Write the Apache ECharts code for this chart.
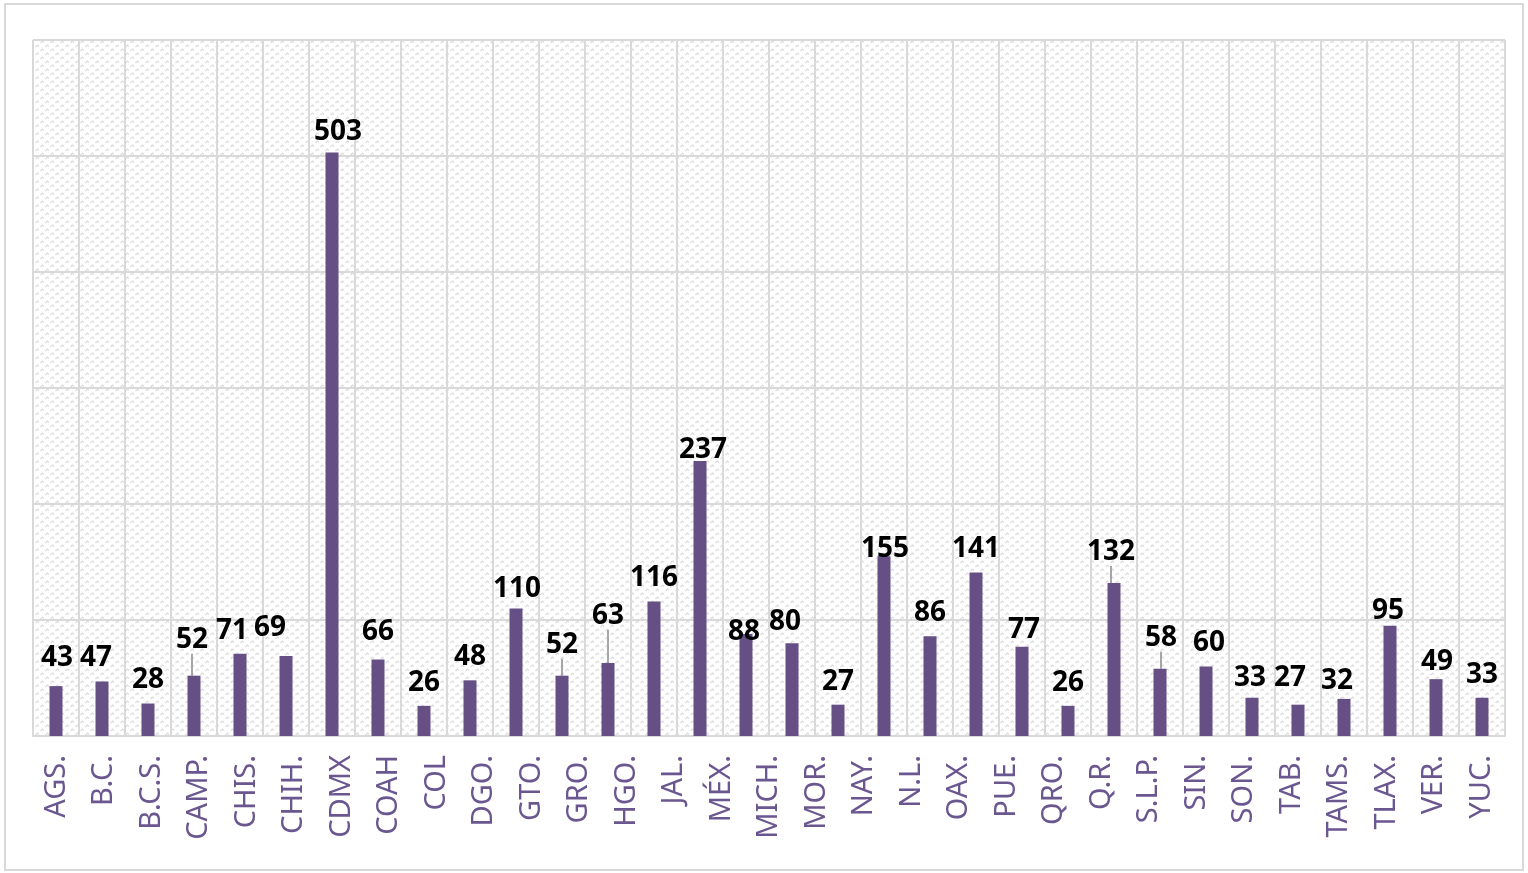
<!DOCTYPE html>
<html>
<head>
<meta charset="utf-8">
<script src="https://cdn.jsdelivr.net/npm/echarts@6/dist/echarts.min.js"></script>
<style>
  html, body { margin: 0; padding: 0; background: #fff; }
  #main { width: 1528px; height: 873px; }
</style>
</head>
<body>
<div id="main"></div>
<script>
// etiquetas del eje (31) y valores de las barras (32)
const states = ['AGS.', 'B.C.', 'B.C.S.', 'CAMP.', 'CHIS.', 'CHIH.', 'CDMX', 'COAH', 'COL', 'DGO.',
  'GTO.', 'GRO.', 'HGO.', 'JAL.', 'MÉX.', 'MICH.', 'MOR.', 'NAY.', 'N.L.', 'OAX.', 'PUE.',
  'QRO.', 'Q.R.', 'S.L.P.', 'SIN.', 'SON.', 'TAB.', 'TAMS.', 'TLAX.', 'VER.', 'YUC.']
const values = [43, 47, 28, 52, 71, 69, 503, 66, 26, 48, 110, 52, 63, 116, 237, 88, 80, 27,
  155, 86, 141, 77, 26, 132, 58, 60, 33, 27, 32, 95, 49, 33]
const yTicks = [0, 100, 200, 300, 400, 500, 600]

// ajustes manuales de etiquetas (índice -> [dx, dy])
const labelNudge = {
  0: [1, -5], 1: [-6, 0], 3: [-2, -13], 4: [-8, 0], 5: [-16, -5], 6: [6, 3], 7: [0, -4],
  10: [1, 4], 11: [0, -8], 12: [0, -24], 14: [3, 12], 15: [-2, 21], 16: [-7, 2], 18: [1, 16],
  21: [2, 6], 23: [-3, -8], 24: [1, -8], 25: [3, 0], 26: [-2, 3], 27: [-8, -4], 28: [-7, 5],
  29: [-2, 8], 30: [1, 6]
}
const leaderIdx = [3, 11, 12, 23, 24]

// fondo con textura (trazos diagonales cortos)
function makePattern() {
  const c = document.createElement('canvas')
  c.width = 10
  c.height = 8
  const ctx = c.getContext('2d')
  ctx.fillStyle = '#ffffff'
  ctx.fillRect(0, 0, 10, 8)
  ctx.strokeStyle = '#dcdcdc'
  ctx.lineWidth = 1.2
  ctx.beginPath()
  ctx.moveTo(0.5, 3); ctx.lineTo(2.5, 1); ctx.lineTo(4, 2.5)
  ctx.moveTo(5.5, 7); ctx.lineTo(7.5, 5); ctx.lineTo(9, 6.5)
  ctx.stroke()
  return c
}

const barCats = values.map((v, i) => states[i] || '')

const myChart = echarts.init(document.getElementById('main'))

myChart.setOption({
  animation: false,
  backgroundColor: '#fff',
  graphic: [{
    type: 'rect',
    shape: { x: 5, y: 4, width: 1518, height: 866 },
    style: { fill: 'none', stroke: '#d9d9d9', lineWidth: 2 },
    silent: true
  }],
  grid: {
    left: 33,
    right: 23,
    top: 40,
    bottom: 137,
    show: true,
    borderWidth: 0,
    backgroundColor: { image: makePattern(), repeat: 'repeat' }
  },
  xAxis: [
    {
      type: 'category',
      data: barCats,
      axisLine: { lineStyle: { color: '#d9d9d9', width: 2 } },
      axisTick: { show: false },
      axisLabel: { show: false },
      splitLine: { show: true, interval: 0, lineStyle: { color: '#d9d9d9', width: 2 } }
    },
    {
      type: 'category',
      data: states,
      position: 'bottom',
      axisLine: { show: false },
      axisTick: { show: false },
      splitLine: { show: false },
      axisLabel: {
        interval: 0,
        rotate: 90,
        margin: 19,
        color: '#6b5790',
        fontFamily: 'Noto Sans',
        fontSize: 29
      }
    }
  ],
  yAxis: {
    type: 'value',
    min: yTicks[0],
    max: yTicks[yTicks.length - 1],
    interval: 100,
    axisLabel: { show: false },
    axisLine: { show: false },
    axisTick: { show: false },
    splitLine: { lineStyle: { color: '#d9d9d9', width: 2 } }
  },
  series: [{
    type: 'bar',
    xAxisIndex: 0,
    barWidth: 13,
    itemStyle: { color: '#654f84' },
    data: values.map((v, i) => ({
      value: v,
      labelLine: { show: leaderIdx.includes(i) }
    })),
    label: {
      show: true,
      position: 'top',
      distance: 9,
      color: '#000',
      fontWeight: 'bold',
      fontFamily: 'Noto Sans',
      fontSize: 28
    },
    labelLine: { show: false, lineStyle: { color: '#a6a6a6', width: 2 } },
    labelLayout: function (params) {
      const n = labelNudge[params.dataIndex]
      if (!n) return {}
      return { dx: n[0], dy: n[1] }
    }
  }]
})

window.addEventListener('resize', () => {
  myChart.resize()
})
</script>
</body>
</html>
